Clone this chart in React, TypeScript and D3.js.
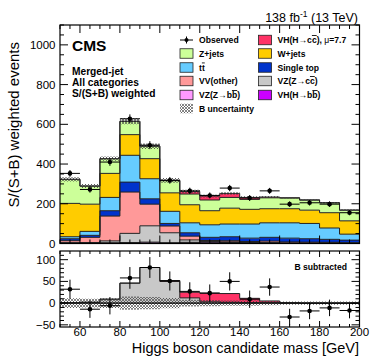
import React from "react";
import * as d3 from "d3";

const edges = d3.range(50, 201, 10);
const vhbb = [1, 1, 1, 2, 3, 2, 4, 6, 5, 3, 2, 1, 1, 1, 0.5];
const vzbb = [2, 2, 3, 3, 4, 2, 2, 2, 1, 1, 1, 1, 1, 1, 0.5];
const vzcc = [1, 2, 9, 46, 82, 50, 12, 3, 2, 1, 1, 0, 0, 0, 0];
const vvother = [10, 26, 125, 208, 109, 34, 19, 4, 6, 5, 8, 6, 5, 4, 3];
const singleTop = [10, 10, 27, 50, 27, 13, 17, 16, 20, 17, 19, 19, 17, 15, 13];
const ttbar = [10, 20, 67, 135, 101, 61, 50, 63, 64, 71, 73, 77, 77, 57, 30];
const wjets = [168, 137, 121, 104, 101, 93, 91, 71, 80, 74, 71, 71, 67, 77, 67];
const zjets = [121, 91, 74, 67, 63, 61, 54, 54, 54, 50, 55, 54, 51, 50, 54];
const vhcc = [0, 0, 0, 0, 0, 2, 13, 20, 20, 10, 4, 1, 0, 0, 0];
const bUnc = [11, 10, 11, 15, 14, 12, 8, 7, 6, 6, 5, 4, 4, 4, 4];
const observed = [353, 272, 410, 628, 495, 318, 265, 242, 279, 229, 265, 198, 205, 198, 155];
const obsErr = [17, 16, 19, 22, 20, 17, 16, 15, 16, 15, 15, 14, 14, 14, 13];
const subObs = [32, -14, -6, 58, 82, 51, 27, 23, 50, 9, 37, -32, -18, -11, -17];
const subErr = [22, 20, 20, 25, 24, 22, 21, 20, 21, 20, 20, 19, 19, 19, 18];
const mainYTicks = [0, 200, 400, 600, 800, 1000];
const lowYTicks = [-50, 0, 50, 100];
const xTicks = [60, 80, 100, 120, 140, 160, 180, 200];

const layers = [
  { name: "VH(H→bb)", vals: vhbb, color: "#cc00ff" },
  { name: "VZ(Z→bb)", vals: vzbb, color: "#ff99ff" },
  { name: "VZ(Z→cc)", vals: vzcc, color: "#c8c8c8" },
  { name: "VV(other)", vals: vvother, color: "#ff9999" },
  { name: "Single top", vals: singleTop, color: "#0033cc" },
  { name: "tt", vals: ttbar, color: "#66ccff" },
  { name: "W+jets", vals: wjets, color: "#ffcc00" },
  { name: "Z+jets", vals: zjets, color: "#ccff99" },
  { name: "VH(H→cc)", vals: vhcc, color: "#ff3366" },
];

const FONT = "'Liberation Sans', Arial, Helvetica, sans-serif";
const L = 60, R = 359.5;
const x = d3.scaleLinear().domain([50, 200]).range([L, R]);
const yMain = d3.scaleLinear().domain([0, 1100]).range([243.5, 25]);
const yLow = d3.scaleLinear().domain([-55, 120]).range([327, 251]);

function stepArea(lo: number[], hi: number[], y: any) {
  const pts = edges.map((e, i) => ({ x: e, lo: lo[Math.min(i, 14)], hi: hi[Math.min(i, 14)] }));
  return d3.area<any>().curve(d3.curveStepAfter).x((d) => x(d.x)).y0((d) => y(d.lo)).y1((d) => y(d.hi))(pts) || "";
}
function stepLine(v: number[], y: any) {
  const pts = edges.map((e, i) => ({ x: e, v: v[Math.min(i, 14)] }));
  return d3.line<any>().curve(d3.curveStepAfter).x((d) => x(d.x)).y((d) => y(d.v))(pts) || "";
}

function Ticks({ y, top, bottom, yMajor, yMinor, xMajorLen, xMinorLen }: any) {
  const xMinor = d3.range(50, 201, 5);
  const els: any[] = [];
  xMinor.forEach((v: number) => {
    const major = v % 20 === 0;
    const len = major ? xMajorLen : xMinorLen;
    els.push(<line key={"b" + v} x1={x(v)} x2={x(v)} y1={bottom} y2={bottom - len} stroke="#000" strokeWidth={1} />);
    els.push(<line key={"t" + v} x1={x(v)} x2={x(v)} y1={top} y2={top + len} stroke="#000" strokeWidth={1} />);
  });
  yMinor.forEach((v: number) => {
    const major = yMajor.includes(v);
    const len = major ? 8 : 4;
    els.push(<line key={"l" + v} x1={L} x2={L + len} y1={y(v)} y2={y(v)} stroke="#000" strokeWidth={1} />);
    els.push(<line key={"r" + v} x1={R} x2={R - len} y1={y(v)} y2={y(v)} stroke="#000" strokeWidth={1} />);
  });
  return <g>{els}</g>;
}

function Bar({ t }: { t: string }) {
  return <tspan style={{ textDecoration: "overline" }}>{t}</tspan>;
}

export default function App() {
  let base = edges.slice(0, 15).map(() => 0);
  const stacks = layers.map((l) => {
    const lo = base.slice();
    const hi = base.map((b, i) => b + l.vals[i]);
    base = hi;
    return { ...l, lo, hi };
  });
  const total = base;
  const zeros = total.map(() => 0);
  const lowHi = vzcc.map((v, i) => v + vhcc[i]);

  const legendRows1 = [40, 53.5, 67.5, 81, 95, 108.5];
  const bx1 = 180, bx2 = 258.5, bw = 13, bh = 9.5;
  const ts = 8.6;

  return (
    <svg width={374} height={359} style={{ position: "absolute", left: 0, top: 0, display: "block", background: "#fff" }} fontFamily={FONT}>
      <defs>
        <pattern id="hatch" width="3" height="3" patternUnits="userSpaceOnUse">
          <path d="M0,0 L3,3 M3,0 L0,3" stroke="#444" strokeWidth={0.65} />
        </pattern>
        <clipPath id="clipMain"><rect x={L} y={25} width={R - L} height={218.5} /></clipPath>
        <clipPath id="clipLow"><rect x={L} y={251} width={R - L} height={76} /></clipPath>
      </defs>

      {/* Main panel */}
      <g clipPath="url(#clipMain)">
        {stacks.map((s, i) => (
          <path key={"a" + i} d={stepArea(s.lo, s.hi, yMain)} fill={s.color} stroke="none" />
        ))}
        {stacks.map((s, i) => (
          <path key={"l" + i} d={stepLine(s.hi, yMain)} fill="none" stroke="#222" strokeWidth={1} />
        ))}
        <path d={stepArea(total.map((t, i) => t - bUnc[i]), total.map((t, i) => t + bUnc[i]), yMain)} fill="url(#hatch)" stroke="none" />
        {edges.slice(0, 15).map((e, i) => (
          <g key={"o" + i}>
            <line x1={x(e)} x2={x(e + 10)} y1={yMain(observed[i])} y2={yMain(observed[i])} stroke="#000" strokeWidth={1} />
            <line x1={x(e + 5)} x2={x(e + 5)} y1={yMain(observed[i] - obsErr[i])} y2={yMain(observed[i] + obsErr[i])} stroke="#000" strokeWidth={1} />
            <circle cx={x(e + 5)} cy={yMain(observed[i])} r={2.3} fill="#000" />
          </g>
        ))}
      </g>
      <rect x={L} y={25} width={R - L} height={218.5} fill="none" stroke="#000" strokeWidth={1.2} />
      <Ticks y={yMain} top={25} bottom={243.5} yMajor={mainYTicks} yMinor={d3.range(0, 1101, 50)} xMajorLen={8} xMinorLen={4} />
      {mainYTicks.map((v) => (
        <text key={"my" + v} x={55.5} y={yMain(v) + 4} textAnchor="end" fontSize={11.5}>{v}</text>
      ))}

      {/* Labels */}
      <text x={72} y={51} fontSize={15.5} fontWeight="bold">CMS</text>
      <text x={72} y={75} fontSize={10.2} fontWeight="bold">Merged-jet</text>
      <text x={72} y={85.8} fontSize={10.2} fontWeight="bold">All categories</text>
      <text x={72} y={96.6} fontSize={10.2} fontWeight="bold">S/(S+B) weighted</text>
      <text x={358} y={21.5} textAnchor="end" fontSize={12.5}>
        138 fb<tspan dy={-4.5} fontSize={8.5}>-1</tspan><tspan dy={4.5}> (13 TeV)</tspan>
      </text>
      <text transform={`translate(19,42) rotate(-90)`} textAnchor="end" fontSize={15}>S/(S+B) weighted events</text>

      {/* Legend */}
      <g fontSize={ts} fontWeight="bold">
        <line x1={bx1} x2={bx1 + bw} y1={legendRows1[0]} y2={legendRows1[0]} stroke="#000" />
        <line x1={bx1 + bw / 2} x2={bx1 + bw / 2} y1={legendRows1[0] - 3.5} y2={legendRows1[0] + 3.5} stroke="#000" />
        <circle cx={bx1 + bw / 2} cy={legendRows1[0]} r={2} fill="#000" />
        <text x={199} y={legendRows1[0] + 3}>Observed</text>
        {[
          { c: "#ccff99", r: 1, t: <>Z+jets</> },
          { c: "#66ccff", r: 2, t: <>t<Bar t="t" /></> },
          { c: "#ff9999", r: 3, t: <>VV(other)</> },
          { c: "#ff99ff", r: 4, t: <>VZ(Z→b<Bar t="b" />)</> },
          { c: "url(#hatch)", r: 5, t: <>B uncertainty</> },
        ].map((d, i) => (
          <g key={"lg1" + i}>
            <rect x={bx1} y={legendRows1[d.r] - bh / 2} width={bw} height={bh} fill={d.c} stroke={d.r === 5 ? "none" : "#222"} strokeWidth={0.8} />
            <text x={199} y={legendRows1[d.r] + 3}>{d.t}</text>
          </g>
        ))}
        {[
          { c: "#ff3366", r: 0, t: <>VH(H→c<Bar t="c" />),  <tspan fontWeight="normal">μ</tspan>=7.7</> },
          { c: "#ffcc00", r: 1, t: <>W+jets</> },
          { c: "#0033cc", r: 2, t: <>Single top</> },
          { c: "#c8c8c8", r: 3, t: <>VZ(Z→c<Bar t="c" />)</> },
          { c: "#cc00ff", r: 4, t: <>VH(H→b<Bar t="b" />)</> },
        ].map((d, i) => (
          <g key={"lg2" + i}>
            <rect x={bx2} y={legendRows1[d.r] - bh / 2} width={bw} height={bh} fill={d.c} stroke="#222" strokeWidth={0.8} />
            <text x={277.5} y={legendRows1[d.r] + 3}>{d.t}</text>
          </g>
        ))}
      </g>

      {/* Lower panel */}
      <g clipPath="url(#clipLow)">
        <path d={stepArea(zeros, vzcc, yLow)} fill="#c8c8c8" />
        <path d={stepArea(vzcc, lowHi, yLow)} fill="#ff3366" />
        <path d={stepLine(vzcc, yLow)} fill="none" stroke="#222" strokeWidth={1} />
        <path d={stepLine(lowHi, yLow)} fill="none" stroke="#222" strokeWidth={1} />
        <path d={stepArea(bUnc.map((u) => -u), bUnc, yLow)} fill="url(#hatch)" />
        <line x1={L} x2={R} y1={yLow(0)} y2={yLow(0)} stroke="#000" strokeWidth={1.2} />
        {edges.slice(0, 15).map((e, i) => (
          <g key={"so" + i}>
            <line x1={x(e)} x2={x(e + 10)} y1={yLow(subObs[i])} y2={yLow(subObs[i])} stroke="#000" strokeWidth={1} />
            <line x1={x(e + 5)} x2={x(e + 5)} y1={yLow(subObs[i] - subErr[i])} y2={yLow(subObs[i] + subErr[i])} stroke="#000" strokeWidth={1} />
            <circle cx={x(e + 5)} cy={yLow(subObs[i])} r={2.3} fill="#000" />
          </g>
        ))}
      </g>
      <rect x={L} y={251} width={R - L} height={76} fill="none" stroke="#000" strokeWidth={1.2} />
      <Ticks y={yLow} top={251} bottom={327} yMajor={lowYTicks} yMinor={d3.range(-50, 111, 10)} xMajorLen={6} xMinorLen={3} />
      {lowYTicks.map((v) => (
        <text key={"ly" + v} x={55.5} y={yLow(v) + 4} textAnchor="end" fontSize={11.5}>{v < 0 ? "−" + Math.abs(v) : v}</text>
      ))}
      <text x={347} y={270} textAnchor="end" fontSize={8.6} fontWeight="bold">B subtracted</text>
      {xTicks.map((v) => (
        <text key={"xt" + v} x={x(v)} y={336} textAnchor="middle" fontSize={11.5}>{v}</text>
      ))}
      <text x={359} y={353} textAnchor="end" fontSize={14.5}>Higgs boson candidate mass [GeV]</text>
    </svg>
  );
}
